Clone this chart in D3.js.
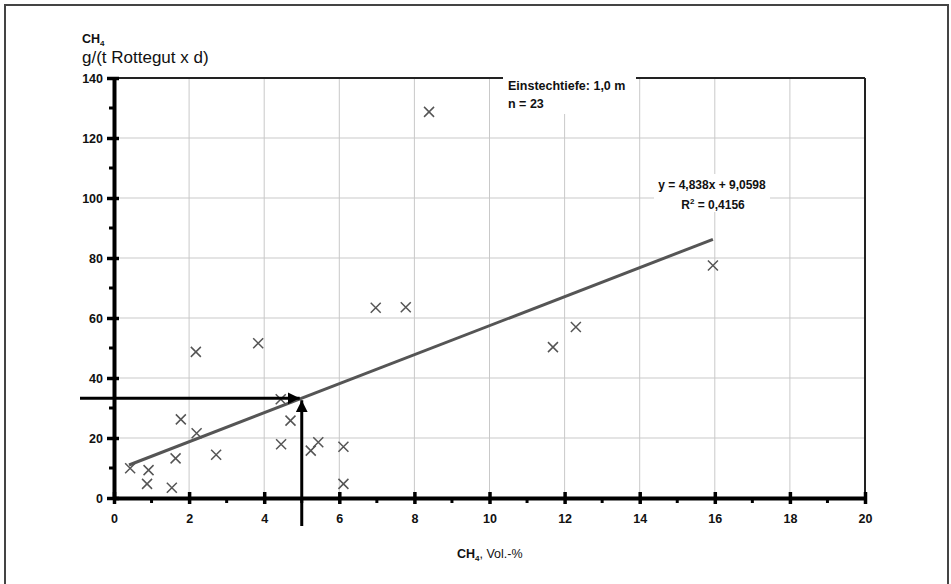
<!DOCTYPE html>
<html>
<head>
<meta charset="utf-8">
<script src="https://cdnjs.cloudflare.com/ajax/libs/d3/7.8.5/d3.min.js"></script>
<style>
  body { margin: 0; background: #fff; }
  svg { display: block; }
  .tick text { font-family: "Liberation Sans", Arial, sans-serif; font-weight: bold; font-size: 12.5px; fill: #111; }
</style>
</head>
<body>
<div id="chart"></div>
<script>
// measured points: CH4 Vol.-% vs. CH4 g/(t Rottegut x d)
var xValues = [0.43, 0.92, 0.88, 1.54, 1.64, 1.78, 2.2, 2.72, 4.44, 4.45, 4.7, 5.24,
               5.44, 6.11, 6.11, 2.18, 3.84, 6.97, 7.77, 8.39, 11.69, 12.3, 15.95];
var yValues = [9.9, 9.3, 4.7, 3.4, 13.2, 26.2, 21.6, 14.4, 32.9, 17.9, 25.8, 15.8,
               18.6, 17.1, 4.7, 48.7, 51.6, 63.4, 63.6, 128.7, 50.3, 57, 77.5];

// linear trend line
var slope = 4.838;
var intercept = 9.0598;
var trendRange = [0.4, 15.95];
var readX = 5;

var xTicks = [0, 2, 4, 6, 8, 10, 12, 14, 16, 18, 20];
var xMinorTicks = [1, 3, 5, 7, 9, 11, 13, 15, 17, 19];
var yTicks = [0, 20, 40, 60, 80, 100, 120, 140];
var yMinorTicks = [10, 30, 50, 70, 90, 110, 130];

var svgWidth = 951;
var svgHeight = 584;
var margin = { top: 78, right: 86, bottom: 86, left: 114 };
var width = svgWidth - margin.left - margin.right;
var height = svgHeight - margin.top - margin.bottom;

var svg = d3.select("#chart")
  .append("svg")
  .attr("width", svgWidth)
  .attr("height", svgHeight);

// outer frame
svg.append("rect")
  .attr("x", 5).attr("y", 5)
  .attr("width", 943).attr("height", 600)
  .attr("fill", "none")
  .attr("stroke", "#444")
  .attr("stroke-width", 2);

var chartGroup = svg.append("g")
  .attr("transform", `translate(${margin.left}, ${margin.top})`);

var x = d3.scaleLinear().domain([0, 20]).range([0, width]);
var y = d3.scaleLinear().domain([0, 140]).range([height, 0]);

// grid
chartGroup.append("g")
  .selectAll("line")
  .data(xTicks.filter(d => d > 0 && d < 20))
  .enter()
  .append("line")
  .attr("x1", d => x(d)).attr("x2", d => x(d))
  .attr("y1", 0).attr("y2", height)
  .attr("stroke", "#c9c9c9")
  .attr("stroke-width", 1);

chartGroup.append("g")
  .selectAll("line")
  .data(yTicks.filter(d => d > 0 && d < 140))
  .enter()
  .append("line")
  .attr("x1", 0).attr("x2", width)
  .attr("y1", d => y(d)).attr("y2", d => y(d))
  .attr("stroke", "#c9c9c9")
  .attr("stroke-width", 1);

// top and right border
chartGroup.append("line")
  .attr("x1", 0).attr("x2", width)
  .attr("y1", 0).attr("y2", 0)
  .attr("stroke", "#222").attr("stroke-width", 2);
chartGroup.append("line")
  .attr("x1", width).attr("x2", width)
  .attr("y1", 0).attr("y2", height)
  .attr("stroke", "#222").attr("stroke-width", 2);

// trend line
chartGroup.append("line")
  .attr("x1", x(trendRange[0]))
  .attr("y1", y(slope * trendRange[0] + intercept))
  .attr("x2", x(trendRange[1]))
  .attr("y2", y(slope * trendRange[1] + intercept))
  .attr("stroke", "#555")
  .attr("stroke-width", 3);

// data points as crosses
var s = 5;
var points = chartGroup.append("g")
  .selectAll("path")
  .data(xValues.map((v, i) => ({ x: v, y: yValues[i] })))
  .enter()
  .append("path")
  .attr("d", d => {
    var cx = x(d.x), cy = y(d.y);
    return `M${cx - s},${cy - s}L${cx + s},${cy + s}M${cx - s},${cy + s}L${cx + s},${cy - s}`;
  })
  .attr("stroke", "#555")
  .attr("stroke-width", 1.5)
  .attr("fill", "none");

// reading arrows
var defs = svg.append("defs");
defs.append("marker")
  .attr("id", "arrow")
  .attr("viewBox", "0 0 10 10")
  .attr("refX", 10).attr("refY", 5)
  .attr("markerWidth", 4).attr("markerHeight", 4)
  .attr("markerUnits", "strokeWidth")
  .attr("orient", "auto")
  .append("path")
  .attr("d", "M0,0L10,5L0,10Z")
  .attr("fill", "#000");

var readY = slope * readX + intercept;
chartGroup.append("line")
  .attr("x1", -34).attr("y1", y(readY))
  .attr("x2", x(readX) - 2).attr("y2", y(readY))
  .attr("stroke", "#000").attr("stroke-width", 3)
  .attr("marker-end", "url(#arrow)");
chartGroup.append("line")
  .attr("x1", x(readX)).attr("y1", height + 28)
  .attr("x2", x(readX)).attr("y2", y(readY) + 2)
  .attr("stroke", "#000").attr("stroke-width", 3)
  .attr("marker-end", "url(#arrow)");

// axes
var bottomAxis = d3.axisBottom(x).tickValues(xTicks).tickSize(6).tickSizeOuter(0).tickPadding(14);
var leftAxis = d3.axisLeft(y).tickValues(yTicks).tickSize(6).tickSizeOuter(0).tickPadding(6);

var xAxisG = chartGroup.append("g")
  .attr("transform", `translate(0, ${height})`)
  .call(bottomAxis);
xAxisG.selectAll(".tick line").attr("y1", -6).attr("y2", 6).style("stroke-width", "3.5px").style("stroke", "#000");
xAxisG.select(".domain").style("stroke-width", "4px").style("stroke", "#000");
xAxisG.selectAll(".tick text").attr("dy", "0.4em");
xAxisG.selectAll(".minor")
  .data(xMinorTicks)
  .enter()
  .append("line")
  .attr("class", "minor")
  .attr("x1", d => x(d)).attr("x2", d => x(d))
  .attr("y1", -1).attr("y2", 5)
  .style("stroke", "#000").style("stroke-width", "3px");

var yAxisG = chartGroup.append("g")
  .call(leftAxis);
yAxisG.selectAll(".tick line").attr("x1", -7).attr("x2", 5).style("stroke-width", "3.5px").style("stroke", "#000");
yAxisG.select(".domain").style("stroke-width", "4px").style("stroke", "#000");
yAxisG.selectAll(".tick text").attr("x", -11);
yAxisG.selectAll(".minor")
  .data(yMinorTicks)
  .enter()
  .append("line")
  .attr("class", "minor")
  .attr("x1", -5).attr("x2", 1)
  .attr("y1", d => y(d)).attr("y2", d => y(d))
  .style("stroke", "#000").style("stroke-width", "3px");

// legend box at top
svg.append("rect")
  .attr("x", 503).attr("y", 70)
  .attr("width", 133).attr("height", 44)
  .attr("fill", "#fff");
svg.append("text")
  .attr("x", 508).attr("y", 90)
  .attr("font-family", "Liberation Sans, Arial, sans-serif")
  .attr("font-weight", "bold").attr("font-size", "12.5px")
  .attr("fill", "#111")
  .text("Einstechtiefe: 1,0 m");
svg.append("text")
  .attr("x", 508).attr("y", 108)
  .attr("font-family", "Liberation Sans, Arial, sans-serif")
  .attr("font-weight", "bold").attr("font-size", "12.5px")
  .attr("fill", "#111")
  .text("n = 23");

// equation label
svg.append("rect")
  .attr("x", 654).attr("y", 174)
  .attr("width", 116).attr("height", 38)
  .attr("fill", "#fff");
svg.append("text")
  .attr("x", 712).attr("y", 189)
  .attr("text-anchor", "middle")
  .attr("font-family", "Liberation Sans, Arial, sans-serif")
  .attr("font-weight", "bold").attr("font-size", "12px")
  .attr("fill", "#111")
  .text("y = 4,838x + 9,0598");
var r2 = svg.append("text")
  .attr("x", 713).attr("y", 209)
  .attr("text-anchor", "middle")
  .attr("font-family", "Liberation Sans, Arial, sans-serif")
  .attr("font-weight", "bold").attr("font-size", "12px")
  .attr("fill", "#111");
r2.append("tspan").text("R");
r2.append("tspan").attr("dy", -5).attr("font-size", "8px").text("2");
r2.append("tspan").attr("dy", 5).text(" = 0,4156");

// axis titles
var yTitle = svg.append("text")
  .attr("x", 82).attr("y", 43)
  .attr("font-family", "Liberation Sans, Arial, sans-serif")
  .attr("font-weight", "bold").attr("font-size", "12.5px")
  .attr("fill", "#111");
yTitle.append("tspan").text("CH");
yTitle.append("tspan").attr("dy", 3).attr("font-size", "8px").text("4");

svg.append("text")
  .attr("x", 82).attr("y", 63)
  .attr("font-family", "Liberation Sans, Arial, sans-serif")
  .attr("font-size", "17px")
  .attr("fill", "#111")
  .text("g/(t Rottegut x d)");

var xTitle = svg.append("text")
  .attr("x", 457).attr("y", 558)
  .attr("font-family", "Liberation Sans, Arial, sans-serif")
  .attr("font-size", "12.5px")
  .attr("fill", "#111");
xTitle.append("tspan").attr("font-weight", "bold").text("CH");
xTitle.append("tspan").attr("font-weight", "bold").attr("dy", 3).attr("font-size", "8px").text("4");
xTitle.append("tspan").attr("dy", -3).text(", Vol.-%");
</script>
</body>
</html>
